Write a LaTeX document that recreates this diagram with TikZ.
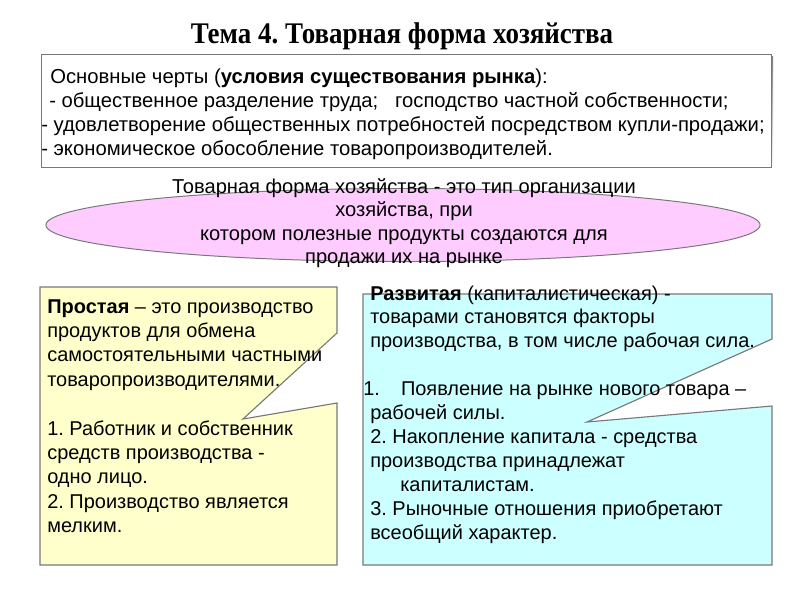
\documentclass[tikz,border=0pt]{standalone}
\usepackage{fontspec}
\setmainfont{Liberation Serif}
\setsansfont{Liberation Sans}
\newfontfamily\titleserif[FakeStretch=0.9]{Liberation Serif}
\usepackage{tikz}
\usetikzlibrary{shapes.geometric}
\definecolor{frame}{RGB}{120,120,120}
\definecolor{shade}{RGB}{200,200,200}
\definecolor{pinkfill}{RGB}{255,204,255}
\definecolor{simplefill}{RGB}{255,255,204}
\definecolor{devfill}{RGB}{204,255,255}
\tikzset{
  titletext/.style={font=\titleserif\bfseries\fontsize{21.3}{25}\selectfont, anchor=base, inner sep=0pt},
  featbox/.style={draw=frame, line width=0.8pt, fill=white},
  featline/.style={font=\sffamily\fontsize{14.4}{17}\selectfont, anchor=base west, inner sep=0pt},
  defn/.style={draw=frame, line width=0.7pt, fill=pinkfill, ellipse, inner sep=0pt},
  defnline/.style={font=\sffamily\fontsize{14.3}{17}\selectfont, anchor=base, inner sep=0pt},
  callbox/.style={draw=frame, line width=0.8pt, line join=miter},
  boxline/.style={font=\sffamily\fontsize{14.2}{17}\selectfont, anchor=base west, inner sep=0pt}
}
\begin{document}
\frenchspacing
\begin{tikzpicture}[x=0.025cm, y=-0.025cm, font=\sffamily]
  \useasboundingbox (0,0) rectangle (800,600);
  % заголовок
  \node[titletext] (title) at (402,43) {Тема 4. Товарная форма хозяйства};
  % основные черты
  \fill[shade] (43,56) rectangle (773,169);
  \node[featbox, anchor=north west, minimum width=18.25cm, minimum height=2.825cm] (feat) at (41,54) {};
  \foreach \x/\txt [count=\i from 0] in {
      50/{Основные черты (\textbf{условия существования рынка}):},
      49/{- общественное разделение труда;\ \ \ господство частной собственности;},
      41/{- удовлетворение общественных потребностей посредством купли-продажи;},
      41/{- экономическое обособление товаропроизводителей.}}
    \node[featline] (f\i) at (\x,83+24*\i) {\txt};
  % определение
  \node[defn, minimum width=17.85cm, minimum height=1.825cm] (defn) at (403,225) {};
  \foreach \txt [count=\i from 0] in {
      {Товарная форма хозяйства - это тип организации},
      {хозяйства, при},
      {котором полезные продукты создаются для},
      {продажи их на рынке}}
    \node[defnline] (d\i) at (404,193+23.5*\i) {\txt};
  % простая
  \path[callbox, fill=simplefill] (40,287) -- (337,287) -- (337,333) -- (243,419)
    -- (337,403) -- (337,565) -- (40,565) -- cycle;
  \foreach \txt [count=\i from 0] in {
      {\textbf{Простая} -- это производство},
      {продуктов для обмена},
      {самостоятельными частными},
      {товаропроизводителями.},
      {},
      {1. Работник и собственник},
      {средств производства -},
      {одно лицо.},
      {2. Производство является},
      {мелким.}}
    \node[boxline] (s\i) at (47,313+24.4*\i) {\txt};
  % развитая
  \path[callbox, fill=devfill] (363,294) -- (772,294) -- (772,339) -- (587,422)
    -- (772,406) -- (772,565) -- (363,565) -- cycle;
  \foreach \x/\txt [count=\i from 0] in {
      370/{\textbf{Развитая} (капиталистическая) -},
      370/{товарами становятся факторы},
      370/{производства, в том числе рабочая сила.},
      370/{},
      363/{1.\hspace{15pt}Появление на рынке нового товара --},
      370/{рабочей силы.},
      370/{2. Накопление капитала - средства},
      370/{производства принадлежат},
      400/{капиталистам.},
      370/{3. Рыночные отношения приобретают},
      370/{всеобщий характер.}}
    \node[boxline] (r\i) at (\x,300+23.9*\i) {\txt};
\end{tikzpicture}
\end{document}
